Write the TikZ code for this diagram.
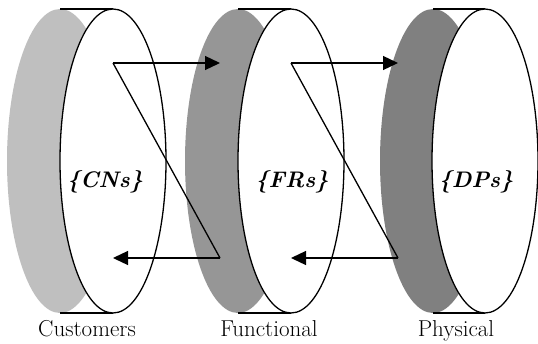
\documentclass[tikz,border=0pt]{standalone}
\usepackage{tikz}
\usepackage{xcolor}
\usetikzlibrary{arrows.meta}

\definecolor{backA}{gray}{0.75}
\definecolor{backB}{gray}{0.59}
\definecolor{backC}{gray}{0.50}

\begin{document}
\begin{tikzpicture}
  [x=1pt,y=-1pt,line width=1.3pt,
   flow/.style={-{Triangle[length=15pt,width=14pt]}},
   setname/.style={font=\fontsize{22.5}{26}\selectfont\bfseries\itshape},
   levelname/.style={font=\fontsize{23}{26}\selectfont,anchor=base}]
  \useasboundingbox (0,0) rectangle (538,343);

  % the three cylinders: back face, rim lines, front face
  \foreach \back/\front/\shade in {60/113/backA,238/291/backB,433/485/backC}
  {
    \fill[\shade] (\back,161) ellipse (53 and 152);
    \draw (\back,9) -- (\front,9);
    \draw (\back,313) -- (\front,313);
    \draw[fill=white] (\front,161) ellipse (53 and 152);
  }

  \node[setname] (cns) at (105,182) {\{CNs\}};
  \node[setname] (frs) at (292,182) {\{FRs\}};
  \node[setname] (dps) at (476,182) {\{DPs\}};

  \node[levelname] (cust) at (87,336) {Customers};
  \node[levelname] (func) at (269,336) {Functional};
  \node[levelname] (phys) at (456,336) {Physical};

  \coordinate (a1) at (113,63);
  \coordinate (b1) at (220,63);
  \coordinate (c1) at (220,258);
  \coordinate (d1) at (113,258);
  \coordinate (a2) at (291,63);
  \coordinate (b2) at (398,63);
  \coordinate (c2) at (398,258);
  \coordinate (d2) at (291,258);

  \foreach \i in {1,2}
  {
    \draw[flow] (a\i) -- (b\i);
    \draw (a\i) -- (c\i);
    \draw[flow] (c\i) -- (d\i);
  }

\end{tikzpicture}
\end{document}
